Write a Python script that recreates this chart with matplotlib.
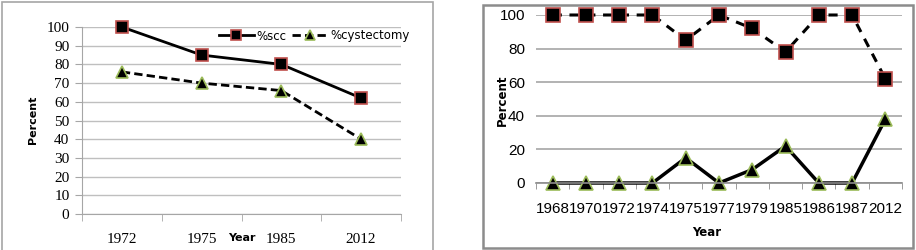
import matplotlib.pyplot as plt
import numpy as np
from matplotlib.patches import Rectangle

# left panel data
left_years = ['1972', '1975', '1985', '2012']
left_scc = [100, 85, 80, 62]
left_cyst = [76, 70, 66, 40]

# right panel data
right_years = ['1968', '1970', '1972', '1974', '1975', '1977', '1979',
               '1985', '1986', '1987', '2012']
right_scc = [100, 100, 100, 100, 85, 100, 92, 78, 100, 100, 62]
right_cyst = [0, 0, 0, 0, 15, 0, 8, 22, 0, 0, 38]

SQ = dict(marker='s', markerfacecolor='black',
          markeredgecolor='#c0504d', markeredgewidth=1.2, clip_on=False)
TRI = dict(marker='^', markerfacecolor='black',
           markeredgecolor='#9bbb59', markeredgewidth=1.2, clip_on=False)
GRID = '#bfbfbf'
W, H = 916, 250

fig = plt.figure(figsize=(W / 100, H / 100), dpi=100)

def box(x0, x1, y0, y1):
    # axes rect in figure fractions from pixel coords (y from top)
    return [x0 / W, 1 - y1 / H, (x1 - x0) / W, (y1 - y0) / H]

# outer frames
fig.patches.append(Rectangle((2 / W, -0.02), 431 / W, 1 - 2 / H + 0.02,
                             transform=fig.transFigure, fill=False,
                             edgecolor='#a6a6a6', lw=1.2))
fig.patches.append(Rectangle((483 / W, 1 - 248 / H), 430 / W, 243 / H,
                             transform=fig.transFigure, fill=False,
                             edgecolor='#8c8c8c', lw=1.8))

# ---------------- left panel ----------------
ax1 = fig.add_axes(box(82, 401, 27, 214))
x1 = np.arange(len(left_years))
ax1.plot(x1, left_scc, color='black', lw=2, ls='-', label='%scc',
         markersize=9, **SQ)
ax1.plot(x1, left_cyst, color='black', lw=2, ls=(0, (3, 1.5)),
         label='%cystectomy', markersize=9, **TRI)
ax1.set_xlim(-0.5, len(left_years) - 0.5)
ax1.set_ylim(0, 100)
ax1.set_yticks(np.arange(0, 101, 10))
ax1.set_xticks(x1)
ax1.set_xticklabels(left_years)
ax1.set_xticks(np.arange(-0.5, len(left_years)), minor=True)
ax1.tick_params(axis='x', which='major', length=0, pad=14)
ax1.tick_params(axis='x', which='minor', length=5, color='#a6a6a6',
                direction='out')
ax1.tick_params(axis='y', length=5, color='#a6a6a6', pad=4)
for lab in ax1.get_xticklabels() + ax1.get_yticklabels():
    lab.set_fontfamily('Liberation Serif')
    lab.set_fontsize(11)
ax1.grid(axis='y', color=GRID, lw=1)
ax1.set_axisbelow(True)
for s in ['top', 'right']:
    ax1.spines[s].set_visible(False)
ax1.spines['left'].set_color('#a6a6a6')
ax1.spines['bottom'].set_color('#a6a6a6')
fig.text(33 / W, 1 - 120 / H, 'Percent', rotation=90, ha='center',
         va='center', fontsize=8, fontweight='bold')
fig.text(242 / W, 1 - 238 / H, 'Year', ha='center', va='center',
         fontsize=8, fontweight='bold')
fig.legend(handles=ax1.get_lines(), loc='center',
           bbox_to_anchor=(314 / W, 1 - 36 / H), ncol=2, frameon=False,
           fontsize=8.5, handlelength=3.0, handletextpad=0.2,
           columnspacing=0.5, borderpad=0, markerscale=0.75)

# ---------------- right panel ----------------
ax2 = fig.add_axes(box(536, 902, 15, 183))
x2 = np.arange(len(right_years))
ax2.plot(x2, right_scc, color='black', lw=2.2, ls=(0, (3, 2.5)),
         markersize=10, **SQ)
ax2.plot(x2, right_cyst, color='black', lw=2.5, ls='-',
         markersize=10, **TRI)
ax2.set_xlim(-0.5, len(right_years) - 0.5)
ax2.set_ylim(0, 100)
ax2.set_yticks(np.arange(0, 101, 20))
ax2.set_xticks(x2)
ax2.set_xticklabels(right_years)
ax2.set_xticks(np.arange(-0.5, len(right_years)), minor=True)
ax2.tick_params(axis='x', which='major', length=0, pad=14)
ax2.tick_params(axis='x', which='minor', length=4, color='#8c8c8c',
                direction='out')
ax2.tick_params(axis='y', length=0, pad=8)
for lab in ax2.get_xticklabels() + ax2.get_yticklabels():
    lab.set_fontfamily('Liberation Sans')
    lab.set_fontsize(11)
ax2.grid(axis='y', color='#a6a6a6', lw=1.2)
ax2.set_axisbelow(True)
for s in ['top', 'right', 'left']:
    ax2.spines[s].set_visible(False)
ax2.spines['bottom'].set_color('#8c8c8c')
ax2.spines['bottom'].set_linewidth(1.2)
fig.text(502 / W, 1 - 100 / H, 'Percent', rotation=90, ha='center',
         va='center', fontsize=8.5, fontweight='bold')
fig.text(707 / W, 1 - 233 / H, 'Year', ha='center', va='center',
         fontsize=8.5, fontweight='bold')

fig.savefig('out.png', dpi=100)
